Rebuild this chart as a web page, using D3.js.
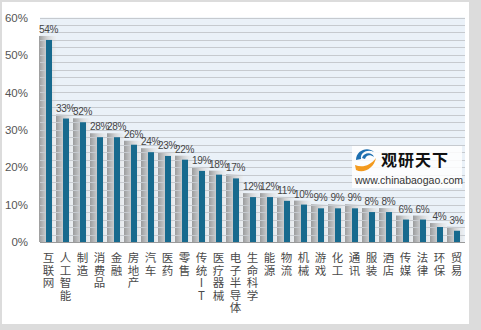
<!DOCTYPE html>
<html><head><meta charset="utf-8">
<script src="https://cdn.jsdelivr.net/npm/d3@7"></script>
<style>html,body{margin:0;padding:0;background:#fff;}svg{display:block;}
.xlab{writing-mode:vertical-rl;text-orientation:upright;}
</style>
</head><body>
<script>
const categories = ["互联网","人工智能","制造","消费品","金融","房地产","汽车","医药","零售","传统IT","医疗器械","电子半导体","生命科学","能源","物流","机械","游戏","化工","通讯","服装","酒店","传媒","法律","环保","贸易"];
const values = [54,33,32,28,28,26,24,23,22,19,18,17,12,12,11,10,9,9,9,8,8,6,6,4,3];
const yTicks = [0,10,20,30,40,50,60];
const gridValues = d3.range(0, 61, 2);

const W = 481, H = 330;
const svg = d3.select("body").append("svg").attr("width", W).attr("height", H);
const defs = svg.append("defs");
const sg = defs.append("linearGradient").attr("id","shadow").attr("x1","0").attr("x2","1").attr("y1","0").attr("y2","0");
sg.append("stop").attr("offset","0").attr("stop-color","#8c8c8c").attr("stop-opacity",0.85);
sg.append("stop").attr("offset","0.45").attr("stop-color","#c4c4c4").attr("stop-opacity",0.75);
sg.append("stop").attr("offset","1").attr("stop-color","#ececec").attr("stop-opacity",0.4);

// frame
svg.append("rect").attr("width",W).attr("height",H).attr("fill","#dcdcdc");
svg.append("rect").attr("x",2).attr("y",2).attr("width",467).attr("height",322).attr("fill","#fff");

const x = d3.scaleBand().domain(categories).range([40, 465]).paddingInner(0).paddingOuter(0);
const y = d3.scaleLinear().domain([0, 60]).range([242, 17.5]);

// plot background
svg.append("rect").attr("x",40).attr("y",y(60)).attr("width",425).attr("height",y(0)-y(60)).attr("fill","#eaf1f8");

const barW = 6;
const bx = d => x(d) + x.bandwidth()/2 - barW/2 + 0.5;

// shadows
svg.append("g").selectAll("rect").data(categories).join("rect")
  .attr("x", (d)=> bx(d) - 7)
  .attr("width", barW + 11)
  .attr("y", (d,i)=> y(values[i]) - 4)
  .attr("height", (d,i)=> y(0) - y(values[i]) + 4)
  .attr("fill","url(#shadow)");

// gridlines
svg.append("g").selectAll("line").data(gridValues).join("line")
  .attr("x1",40).attr("x2",465)
  .attr("y1", d=>Math.round(y(d))+0.5).attr("y2", d=>Math.round(y(d))+0.5)
  .attr("stroke", d=> d===0 ? "#9a9a9a" : "#c6cacf").attr("stroke-width",1);

// bars
svg.append("g").selectAll("rect").data(categories).join("rect")
  .attr("x", d=> bx(d))
  .attr("width", barW)
  .attr("y", (d,i)=> y(values[i]))
  .attr("height", (d,i)=> y(0) - y(values[i]))
  .attr("fill","#176a8e");

// value labels
svg.append("g").selectAll("text").data(categories).join("text")
  .attr("x", d=> x(d) + x.bandwidth()/2)
  .attr("y", (d,i)=> y(values[i]) - 7)
  .attr("text-anchor","middle")
  .attr("font-family","'Liberation Sans', Arial, sans-serif")
  .attr("font-size","10px")
  .attr("letter-spacing","-0.3px")
  .attr("fill","#444")
  .text((d,i)=> values[i] + "%");

// y axis
const yAxis = d3.axisLeft(y).tickValues(yTicks).tickFormat(d=> d + "%").tickSize(0).tickPadding(12);
const ya = svg.append("g").attr("transform","translate(40,0)").call(yAxis);
ya.select(".domain").remove();
ya.selectAll("text").attr("font-family","'Liberation Sans', Arial, sans-serif").attr("font-size","11.5px").attr("fill","#555");

// x labels (vertical, upright characters)
svg.append("g").selectAll("text").data(categories).join("text")
  .attr("class","xlab")
  .attr("x", d=> x(d) + x.bandwidth()/2)
  .attr("y", 252)
  .attr("font-family","'Noto Sans CJK SC', sans-serif")
  .attr("font-size","11.5px")
  .attr("letter-spacing","1px")
  .attr("fill","#4a4a4a")
  .text(d=>d);

// watermark
const wm = svg.append("g");
wm.append("rect").attr("x",352).attr("y",146).attr("width",110).attr("height",42).attr("fill","#fff").attr("opacity",0.85);
wm.append("path").attr("d","M356,160 C356,150 368,146 374,152 C368,149 360,152 361,159 Z").attr("fill","#1d6fb0");
wm.append("path").attr("d","M362,158 C364,152 372,152 374,157 C370,154 366,155 365,159 Z").attr("fill","#1d6fb0");
wm.append("path").attr("d","M355,165 C362,168 370,166 376,158 C374,168 364,174 356,170 Z").attr("fill","#f39a1e");
wm.append("text").attr("x",381).attr("y",166).attr("font-family","'Noto Sans CJK SC', sans-serif").attr("font-weight","bold").attr("font-size","16px").attr("fill","#111").attr("letter-spacing","1").text("观研天下");
wm.append("text").attr("x",355).attr("y",184).attr("font-family","'Liberation Sans', Arial, sans-serif").attr("font-size","10.5px").attr("fill","#333").text("www.chinabaogao.com");
</script>
</body></html>
